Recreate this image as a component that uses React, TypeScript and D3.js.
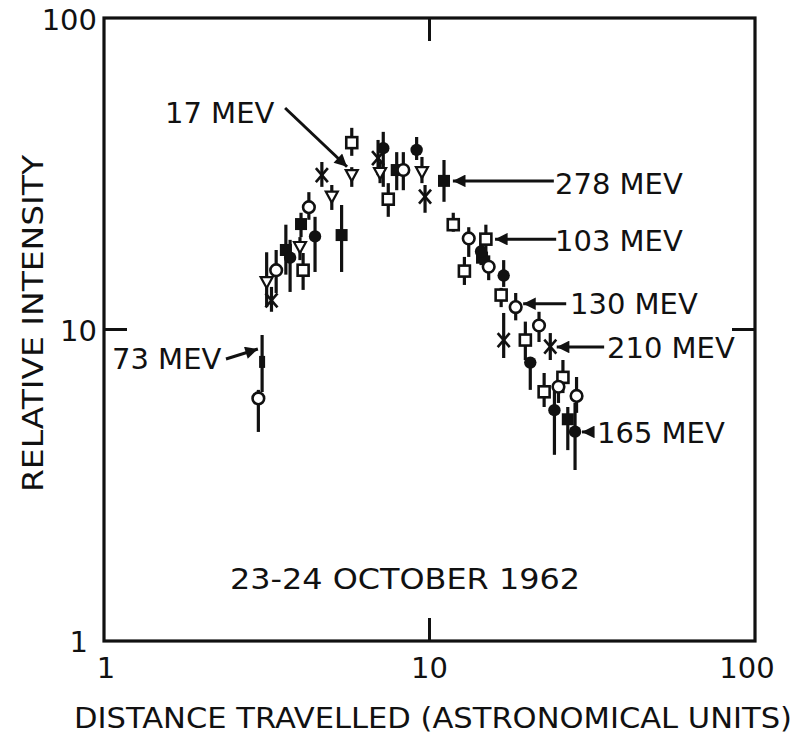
import React from 'react'
import * as d3 from 'd3'

// each point: [distance AU, intensity, error low, error high]
const mev17 = [
  [3.16, 14.2, 11.8, 17.7],
  [4.0, 18.4, 16.7, 19.8],
  [5.01, 26.7, 24.2, 29.1],
  [5.77, 31.3, 28.7, 33.2],
  [7.05, 31.8, 29.5, 34.5],
  [9.48, 32.0, 29.5, 35.8],
]
const mev73 = [[3.06, 7.87, 6.3, 9.6]]
const mev103 = [
  [4.09, 15.5, 13.4, 17.6],
  [5.77, 39.8, 36.1, 44.4],
  [7.47, 26.2, 23.0, 29.5],
  [11.83, 21.7, 20.6, 23.7],
  [12.8, 15.4, 13.9, 17.1],
  [14.9, 19.5, 17.6, 21.7],
  [16.6, 12.9, 11.8, 13.6],
  [19.7, 9.25, 7.98, 10.6],
  [22.5, 6.31, 5.64, 7.25],
  [25.7, 7.02, 6.25, 7.98],
]
const mev130 = [
  [2.98, 6.01, 4.69, 6.4],
  [3.38, 15.5, 13.1, 18.0],
  [4.26, 24.7, 22.5, 27.6],
  [8.31, 32.5, 28.0, 37.1],
  [13.2, 19.6, 17.1, 21.3],
  [15.2, 15.9, 14.4, 17.3],
  [18.4, 11.8, 10.7, 13.1],
  [21.7, 10.3, 9.12, 11.4],
  [24.9, 6.55, 5.81, 7.25],
  [28.3, 6.12, 5.4, 7.04],
]
const mev165 = [
  [3.73, 17.0, 13.2, 19.4],
  [4.45, 19.9, 15.3, 23.0],
  [7.21, 38.2, 28.7, 43.1],
  [9.13, 37.7, 35.0, 41.5],
  [14.4, 17.8, 16.1, 19.4],
  [16.9, 14.9, 13.7, 16.7],
  [20.4, 7.83, 6.4, 8.16],
  [24.2, 5.51, 3.96, 6.54],
  [28.0, 4.7, 3.54, 5.81],
]
const mev210 = [
  [3.27, 12.4, 11.4, 13.7],
  [4.67, 31.3, 28.7, 34.5],
  [6.95, 35.5, 31.3, 40.6],
  [9.69, 26.7, 23.7, 29.1],
  [16.9, 9.25, 8.1, 11.3],
  [23.5, 8.81, 7.98, 9.74],
]
const mev278 = [
  [3.62, 18.0, 15.0, 21.7],
  [4.03, 21.8, 19.8, 23.7],
  [5.37, 20.1, 15.3, 25.1],
  [7.93, 32.5, 28.0, 37.1],
  [11.08, 30.0, 25.7, 35.0],
  [14.5, 17.0, 16.1, 19.4],
  [26.6, 5.15, 4.1, 5.64],
]

// label, arrow tip [x, y], arrow tail [x, y]
const labels = [
  { text: '17 MEV', tip: [5.58, 33.3], tail: [3.6, 51.4], tx: 165, ty: 123 },
  { text: '278 MEV', tip: [11.8, 30.0], tail: [24.1, 30.0], tx: 555, ty: 194 },
  { text: '103 MEV', tip: [15.9, 19.5], tail: [24.5, 19.5], tx: 555, ty: 251 },
  { text: '130 MEV', tip: [19.4, 12.1], tail: [26.3, 12.1], tx: 570, ty: 314 },
  { text: '210 MEV', tip: [24.6, 8.79], tail: [34.4, 8.79], tx: 607, ty: 358 },
  { text: '165 MEV', tip: [29.4, 4.69], tail: [32.0, 4.69], tx: 597, ty: 443 },
  { text: '73 MEV', tip: [2.97, 8.66], tail: [2.37, 8.04], tx: 112, ty: 369 },
]

const W = 804
const H = 734
const m = { left: 104, right: 755, top: 18, bottom: 641 }
const ink = '#111'
const font = '"DejaVu Sans", sans-serif'

const x = d3.scaleLog().domain([1, 100]).range([m.left, m.right])
const y = d3.scaleLog().domain([1, 100]).range([m.bottom, m.top])

function ErrBar({ d }: { d: number[] }) {
  return <line x1={x(d[0])} x2={x(d[0])} y1={y(d[2])} y2={y(d[3])} stroke={ink} strokeWidth={3.2} />
}

function Marker({ kind, d }: { kind: string; d: number[] }) {
  const cx = x(d[0])
  const cy = y(d[1])
  if (kind === 'tri')
    return <path d={`M${cx - 6},${cy - 5}L${cx + 6},${cy - 5}L${cx},${cy + 6}Z`} fill="#fff" stroke={ink} strokeWidth={2.2} />
  if (kind === 'sqOpen')
    return <rect x={cx - 5.5} y={cy - 5.5} width={11} height={11} fill="#fff" stroke={ink} strokeWidth={2.6} />
  if (kind === 'sqFill')
    return <rect x={cx - 6} y={cy - 6} width={12} height={12} fill={ink} />
  if (kind === 'circOpen')
    return <circle cx={cx} cy={cy} r={5.8} fill="#fff" stroke={ink} strokeWidth={2.6} />
  if (kind === 'circFill')
    return <circle cx={cx} cy={cy} r={6.2} fill={ink} />
  if (kind === 'star')
    return (
      <g stroke={ink} strokeWidth={2.6}>
        <line x1={cx - 6} y1={cy - 7} x2={cx + 6} y2={cy + 7} />
        <line x1={cx + 6} y1={cy - 7} x2={cx - 6} y2={cy + 7} />
      </g>
    )
  return <rect x={cx - 3} y={cy - 6} width={6} height={12} fill={ink} />
}

const series: [string, number[][]][] = [
  ['bar', mev73],
  ['star', mev210],
  ['tri', mev17],
  ['sqFill', mev278],
  ['circFill', mev165],
  ['sqOpen', mev103],
  ['circOpen', mev130],
]

export default function App() {
  const tickLen = 23
  return (
    <svg width={W} height={H} style={{ position: 'absolute', left: 0, top: 0, background: '#fff' }} fontFamily={font}>
      <defs>
        <marker id="ah" viewBox="0 0 10 10" refX={10} refY={5} markerWidth={5} markerHeight={4.2} orient="auto" markerUnits="strokeWidth">
          <path d="M0,0L10,5L0,10Z" fill={ink} />
        </marker>
      </defs>
      {/* frame */}
      <rect x={m.left} y={m.top} width={m.right - m.left} height={m.bottom - m.top} fill="none" stroke={ink} strokeWidth={3.2} />
      {/* inner ticks at the middle decade */}
      <g stroke={ink} strokeWidth={3}>
        <line x1={x(10)} x2={x(10)} y1={m.top} y2={m.top + tickLen} />
        <line x1={x(10)} x2={x(10)} y1={m.bottom} y2={m.bottom - tickLen} />
        <line x1={m.left} x2={m.left + tickLen} y1={y(10)} y2={y(10)} />
        <line x1={m.right} x2={m.right - tickLen} y1={y(10)} y2={y(10)} />
      </g>
      {/* tick labels */}
      <g fontSize={29} fill={ink}>
        <text x={97} y={y(100) + 12} textAnchor="end">100</text>
        <text x={97} y={y(10) + 11} textAnchor="end">10</text>
        <text x={88} y={y(1) + 11} textAnchor="end">1</text>
        <text x={x(1) + 2} y={678} textAnchor="middle">1</text>
        <text x={x(10)} y={678} textAnchor="middle">10</text>
        <text x={x(100) - 8} y={678} textAnchor="middle">100</text>
      </g>
      {/* axis titles */}
      <text x={74} y={728} fontSize={28} fill={ink} textLength={718} lengthAdjust="spacingAndGlyphs">
        DISTANCE TRAVELLED (ASTRONOMICAL UNITS)
      </text>
      <text transform={`translate(43,${(155 + 492) / 2}) rotate(-90)`} fontSize={29} fill={ink} textAnchor="middle" textLength={337} lengthAdjust="spacingAndGlyphs">
        RELATIVE INTENSITY
      </text>
      <text x={230} y={589} fontSize={29} fill={ink} textLength={350} lengthAdjust="spacingAndGlyphs">
        23-24 OCTOBER 1962
      </text>
      {/* data */}
      {series.map(([k, pts]) => (
        <g key={k + 'e'}>
          {pts.map((d, i) => <ErrBar key={i} d={d} />)}
        </g>
      ))}
      {series.map(([k, pts]) => (
        <g key={k}>
          {pts.map((d, i) => <Marker key={i} kind={k} d={d} />)}
        </g>
      ))}
      {/* labels with arrows */}
      {labels.map((l) => (
        <g key={l.text}>
          <line x1={x(l.tail[0])} y1={y(l.tail[1])} x2={x(l.tip[0])} y2={y(l.tip[1])} stroke={ink} strokeWidth={3} markerEnd="url(#ah)" />
          <text x={l.tx} y={l.ty} fontSize={29} fill={ink}>{l.text}</text>
        </g>
      ))}
    </svg>
  )
}
